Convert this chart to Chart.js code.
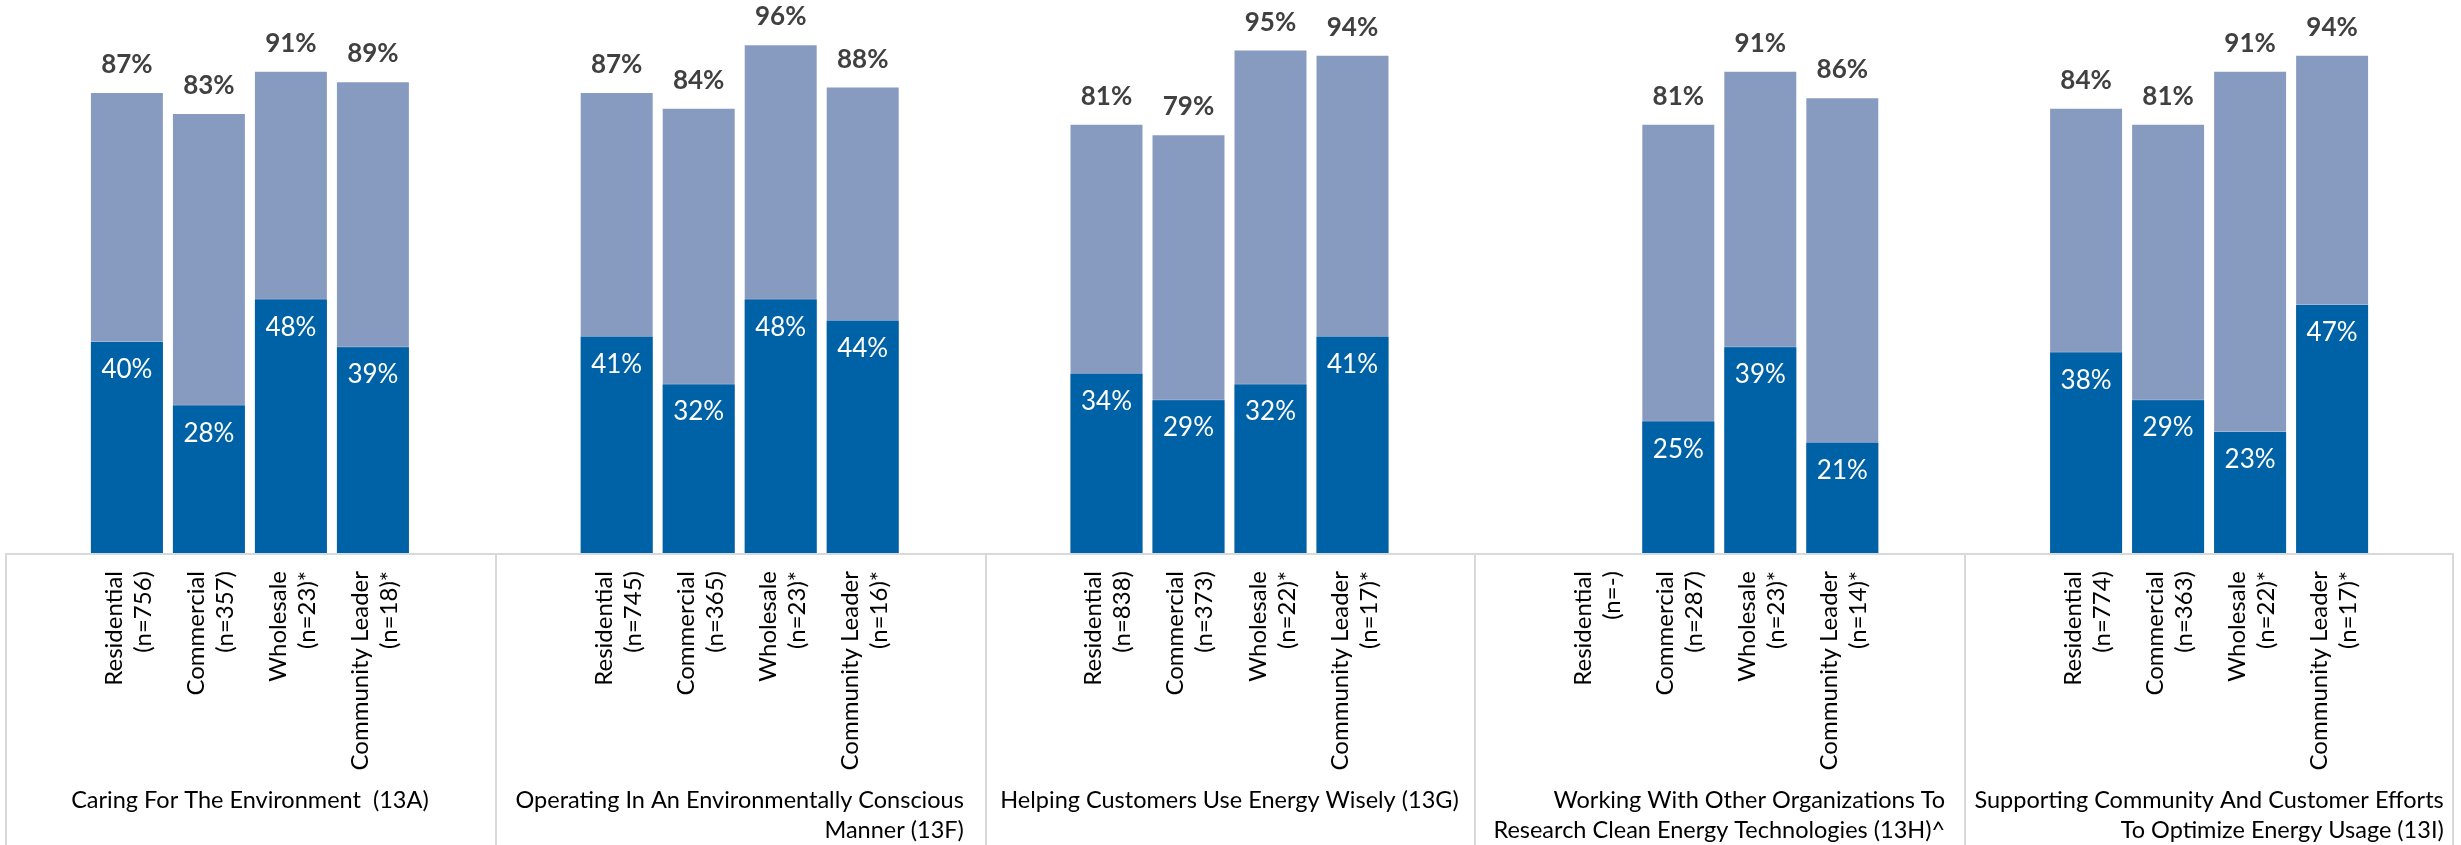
<!DOCTYPE html>
<html>
<head>
<meta charset="utf-8">
<script src="https://cdn.jsdelivr.net/npm/chart.js@4.4.1/dist/chart.umd.min.js"></script>
<style>
  html, body { margin: 0; padding: 0; background: #fff; }
  #wrap { width: 2461px; height: 845px; }
</style>
</head>
<body>
<div id="wrap"><canvas id="chart" width="2461" height="845"></canvas></div>
<script>
// Favourable ratings by customer segment for five environmental attributes.
// Light bar = total favourable, dark bar = strongly favourable (same base).

const ATTRIBUTES = ['13A', '13F', '13G', '13H', '13I'];
const ATTRIBUTE_LABELS = [
  ['Caring For The Environment  (13A)'],
  ['Operating In An Environmentally Conscious', 'Manner (13F)'],
  ['Helping Customers Use Energy Wisely (13G)'],
  ['Working With Other Organizations To', 'Research Clean Energy Technologies (13H)^'],
  ['Supporting Community And Customer Efforts', 'To Optimize Energy Usage (13I)'],
];
const SEGMENTS = ['Residential', 'Commercial', 'Wholesale', 'Community Leader'];

// total favourable, one value per attribute (null = not asked)
const totalResidential = [87, 87, 81, null, 84];
const totalCommercial = [83, 84, 79, 81, 81];
const totalWholesale = [91, 96, 95, 91, 91];
const totalCommunity = [89, 88, 94, 86, 94];

// strongly favourable
const strongResidential = [40, 41, 34, null, 38];
const strongCommercial = [28, 32, 29, 25, 29];
const strongWholesale = [48, 48, 32, 39, 23];
const strongCommunity = [39, 44, 41, 21, 47];

// base sizes shown under each bar
const sampleResidential = ['(n=756)', '(n=745)', '(n=838)', '(n=-)', '(n=774)'];
const sampleCommercial = ['(n=357)', '(n=365)', '(n=373)', '(n=287)', '(n=363)'];
const sampleWholesale = ['(n=23)*', '(n=23)*', '(n=22)*', '(n=23)*', '(n=22)*'];
const sampleCommunity = ['(n=18)*', '(n=16)*', '(n=17)*', '(n=14)*', '(n=17)*'];

const totals = [totalResidential, totalCommercial, totalWholesale, totalCommunity];
const strongs = [strongResidential, strongCommercial, strongWholesale, strongCommunity];
const samples = [sampleResidential, sampleCommercial, sampleWholesale, sampleCommunity];

const FONT = 'Lato, "Open Sans", sans-serif';
const DARK = '#0062A6';
const LIGHT = '#879BC0';
const RULE = '#D9D9D9';

// Dark datasets first (order 0) so they paint over the light ones sharing the slot.
const datasets = [];
SEGMENTS.forEach((name, s) => {
  datasets.push({
    kind: 'strong', label: name + ' strong', data: strongs[s], stack: 's' + s, order: 0,
    backgroundColor: DARK, borderColor: 'rgba(255,255,255,0.25)', borderWidth: 1,
  });
});
SEGMENTS.forEach((name, s) => {
  datasets.push({
    kind: 'total', label: name + ' total', data: totals[s], stack: 's' + s, order: 1,
    backgroundColor: LIGHT, borderColor: 'rgba(255,255,255,0.3)', borderWidth: 1,
  });
});

// Percent labels: bold grey above the total bar, white inside the top of the strong bar.
const valueLabels = {
  id: 'valueLabels',
  afterDatasetsDraw(chart) {
    const { ctx } = chart;
    ctx.save();
    ctx.textAlign = 'center';
    ctx.textBaseline = 'alphabetic';
    chart.data.datasets.forEach((ds, di) => {
      chart.getDatasetMeta(di).data.forEach((bar, i) => {
        const v = ds.data[i];
        if (v == null) return;
        if (ds.kind === 'total') {
          ctx.font = 'bold 26px ' + FONT;
          ctx.fillStyle = '#404040';
          ctx.fillText(v + '%', bar.x, bar.y - 19);
        } else {
          ctx.font = '26px ' + FONT;
          ctx.fillStyle = '#FFFFFF';
          ctx.fillText(v + '%', bar.x, bar.y + 37);
        }
      });
    });
    ctx.restore();
  },
};

// Boxed two-level category axis: rotated segment/base labels per bar, attribute below.
const tableAxis = {
  id: 'tableAxis',
  afterDraw(chart) {
    const { ctx, chartArea: a, scales: { x } } = chart;
    const half = a.width / ATTRIBUTES.length / 2;
    const lineY = a.bottom + 1;
    ctx.save();

    ctx.strokeStyle = RULE;
    ctx.lineWidth = 2;
    ctx.beginPath();
    ctx.moveTo(a.left, lineY);
    ctx.lineTo(a.right, lineY);
    for (let g = 0; g <= ATTRIBUTES.length; g++) {
      const gx = Math.round(x.getPixelForValue(g) - half) + (g === ATTRIBUTES.length ? -1 : 1);
      ctx.moveTo(gx, lineY);
      ctx.lineTo(gx, chart.height);
    }
    ctx.stroke();

    ctx.fillStyle = '#000';
    ctx.font = '24px ' + FONT;
    ctx.textBaseline = 'alphabetic';
    SEGMENTS.forEach((name, s) => {
      const meta = chart.getDatasetMeta(s);
      ATTRIBUTES.forEach((_, g) => {
        const cx = meta.data[g].x;
        ctx.save();
        ctx.translate(cx, lineY + 17);
        ctx.rotate(-Math.PI / 2);
        ctx.textAlign = 'right';
        ctx.fillText(name, 0, -5);
        ctx.fillText(samples[s][g], 0, 24);
        ctx.restore();
      });
    });

    ctx.font = '23.5px ' + FONT;
    ctx.textAlign = 'right';
    ATTRIBUTE_LABELS.forEach((lines, g) => {
      const cx = x.getPixelForValue(g);
      const w = Math.max(...lines.map((t) => ctx.measureText(t).width));
      const right = cx + w / 2;
      lines.forEach((t, k) => ctx.fillText(t, right, lineY + 254 + k * 30));
    });
    ctx.restore();
  },
};

new Chart(document.getElementById('chart'), {
  type: 'bar',
  data: { labels: ATTRIBUTES, datasets },
  options: {
    responsive: false,
    animation: false,
    layout: { padding: { left: 5, right: 7, top: 23, bottom: 292 } },
    datasets: { bar: { categoryPercentage: 0.6697, barPercentage: 0.902 } },
    plugins: { legend: { display: false }, tooltip: { enabled: false } },
    scales: {
      x: { display: false },
      y: { display: false, min: 0, max: 100, stacked: false },
    },
  },
  plugins: [valueLabels, tableAxis],
});
</script>
</body>
</html>
